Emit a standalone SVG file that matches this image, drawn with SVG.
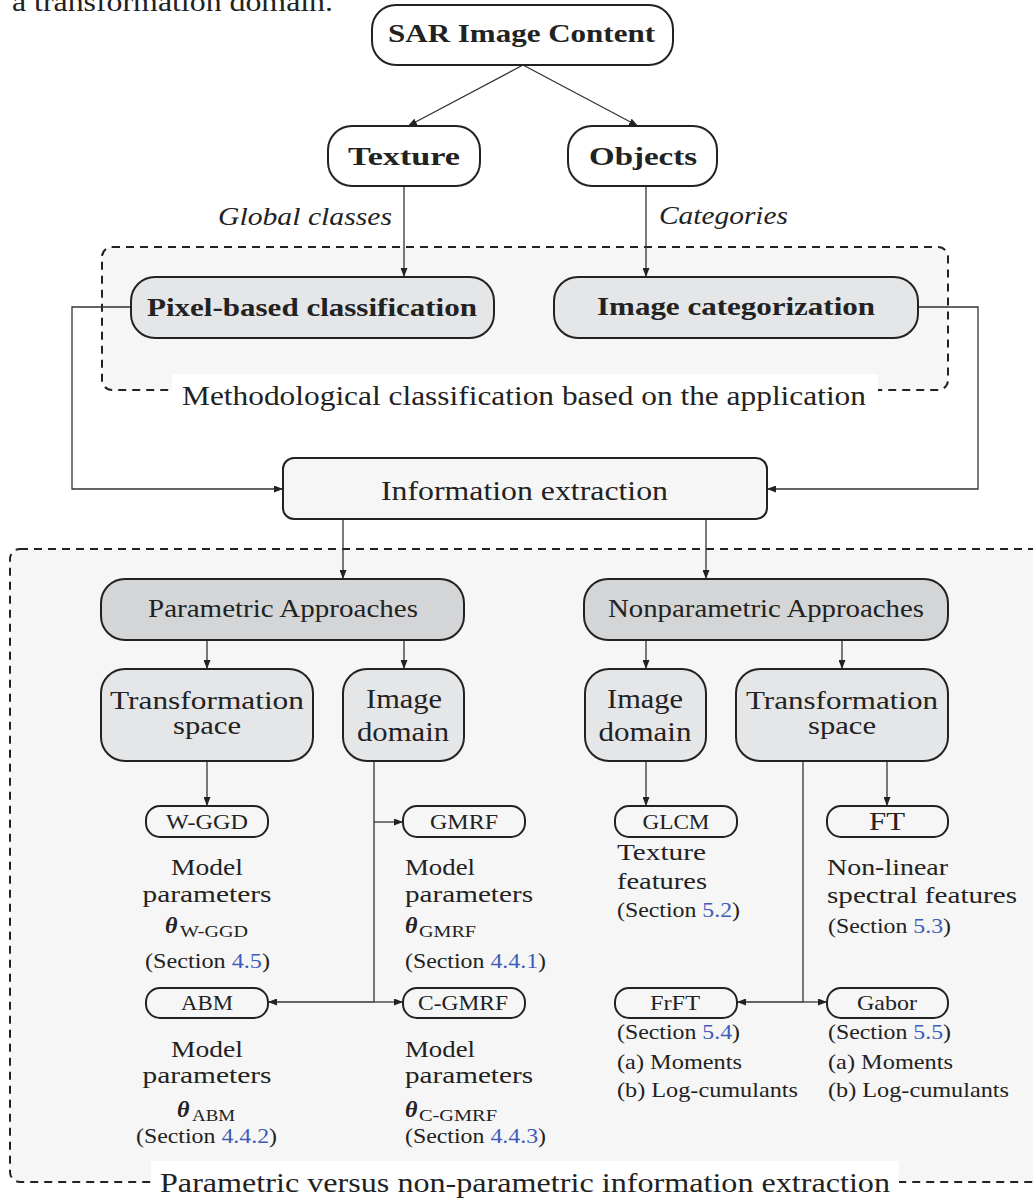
<svg xmlns="http://www.w3.org/2000/svg" width="1033" height="1199" viewBox="0 0 1033 1199" font-family="'Liberation Serif', 'Times New Roman', serif">
  <style>
    text { font-family: "Liberation Serif", "Times New Roman", serif; fill: #222; }
    .b { font-weight: bold; }
    .it { font-style: italic; }
    .mid { text-anchor: middle; }
    .node { stroke: #222; stroke-width: 2; }
    .white { fill: #ffffff; }
    .soft { fill: #e5e6e8; }
    .dark { fill: #d4d5d7; }
    .pale { fill: #f6f6f6; }
    .frame { fill: #f6f6f6; stroke: #222; stroke-width: 2; stroke-dasharray: 8 6; }
    .wire { fill: none; stroke: #333; stroke-width: 1.3; }
    .ref { fill: #3f5bb8; }
  </style>
  <defs>
    <marker id="tip" viewBox="0 0 9 7" refX="9" refY="3.5" markerWidth="9" markerHeight="7" markerUnits="userSpaceOnUse" orient="auto">
      <path d="M0,0 L9,3.5 L0,7 z" fill="#222"/>
    </marker>
  </defs>

  <!-- running text line above the figure -->
  <text x="12" y="11" font-size="28" textLength="321" lengthAdjust="spacingAndGlyphs">a transformation domain.</text>

  <!-- background frames -->
  <g id="frame-methodological">
    <rect class="frame" x="102" y="247" width="846" height="143" rx="10"/>
    <rect x="172" y="374" width="706" height="46" fill="#ffffff"/>
    <text x="182" y="405" font-size="28" textLength="684" lengthAdjust="spacingAndGlyphs">Methodological classification based on the application</text>
  </g>
  <g id="frame-extraction">
    <rect class="frame" x="10" y="549" width="1100" height="633" rx="10"/>
    <rect x="151" y="1161" width="748" height="38" fill="#ffffff"/>
    <text x="160" y="1192" font-size="28" textLength="730" lengthAdjust="spacingAndGlyphs">Parametric versus non-parametric information extraction</text>
  </g>

  <!-- connectors -->
  <g id="connectors" class="wire">
    <path d="M523,65 L408,126" marker-end="url(#tip)"/>
    <path d="M523,65 L638,126" marker-end="url(#tip)"/>
    <path d="M404,186 V277" marker-end="url(#tip)"/>
    <path d="M646,186 V277" marker-end="url(#tip)"/>
    <path d="M131,307 H72 V489 H283" marker-end="url(#tip)"/>
    <path d="M918,307 H978 V489 H767" marker-end="url(#tip)"/>
    <path d="M343,519 V579" marker-end="url(#tip)"/>
    <path d="M706,519 V579" marker-end="url(#tip)"/>
    <path d="M207,640 V669" marker-end="url(#tip)"/>
    <path d="M404,640 V669" marker-end="url(#tip)"/>
    <path d="M646,640 V669" marker-end="url(#tip)"/>
    <path d="M842,640 V669" marker-end="url(#tip)"/>
    <path d="M207,761 V806" marker-end="url(#tip)"/>
    <path d="M374,761 V1002"/>
    <path d="M374,822 H403" marker-end="url(#tip)"/>
    <path d="M374,1002 H268" marker-end="url(#tip)"/>
    <path d="M374,1002 H403" marker-end="url(#tip)"/>
    <path d="M646,761 V806" marker-end="url(#tip)"/>
    <path d="M887,761 V806" marker-end="url(#tip)"/>
    <path d="M803,761 V1002"/>
    <path d="M803,1002 H737" marker-end="url(#tip)"/>
    <path d="M803,1002 H827" marker-end="url(#tip)"/>
  </g>

  <!-- edge labels -->
  <text class="it" x="218" y="225" font-size="26" textLength="174" lengthAdjust="spacingAndGlyphs">Global classes</text>
  <text class="it" x="659" y="224" font-size="26" textLength="129" lengthAdjust="spacingAndGlyphs">Categories</text>

  <!-- top level -->
  <g id="sar-content">
    <rect class="node white" x="372" y="5" width="301" height="60" rx="24"/>
    <text class="b" x="388" y="42" font-size="26" textLength="267" lengthAdjust="spacingAndGlyphs">SAR Image Content</text>
  </g>
  <g id="texture">
    <rect class="node white" x="328" y="126" width="152" height="60" rx="24"/>
    <text class="b" x="348" y="165" font-size="26" textLength="112" lengthAdjust="spacingAndGlyphs">Texture</text>
  </g>
  <g id="objects">
    <rect class="node white" x="568" y="126" width="149" height="60" rx="24"/>
    <text class="b" x="589" y="165" font-size="26" textLength="108" lengthAdjust="spacingAndGlyphs">Objects</text>
  </g>

  <!-- application level -->
  <g id="pixel-classification">
    <rect class="node soft" x="131" y="277" width="363" height="61" rx="24"/>
    <text class="b" x="147" y="316" font-size="25" textLength="330" lengthAdjust="spacingAndGlyphs">Pixel-based classification</text>
  </g>
  <g id="image-categorization">
    <rect class="node soft" x="554" y="277" width="364" height="61" rx="24"/>
    <text class="b" x="597" y="315" font-size="25" textLength="278" lengthAdjust="spacingAndGlyphs">Image categorization</text>
  </g>

  <g id="information-extraction">
    <rect class="node pale" x="283" y="458" width="484" height="61" rx="11"/>
    <text x="381" y="500" font-size="28" textLength="287" lengthAdjust="spacingAndGlyphs">Information extraction</text>
  </g>

  <!-- approach level -->
  <g id="parametric">
    <rect class="node dark" x="101" y="579" width="363" height="61" rx="24"/>
    <text x="148" y="617" font-size="26" textLength="270" lengthAdjust="spacingAndGlyphs">Parametric Approaches</text>
  </g>
  <g id="nonparametric">
    <rect class="node dark" x="584" y="579" width="364" height="61" rx="24"/>
    <text x="608" y="617" font-size="26" textLength="316" lengthAdjust="spacingAndGlyphs">Nonparametric Approaches</text>
  </g>

  <g id="param-transform">
    <rect class="node soft" x="101" y="669" width="212" height="92" rx="24"/>
    <text class="mid" x="207" y="709" font-size="25" textLength="194" lengthAdjust="spacingAndGlyphs">Transformation</text>
    <text class="mid" x="207" y="734" font-size="25" textLength="68" lengthAdjust="spacingAndGlyphs">space</text>
  </g>
  <g id="param-image">
    <rect class="node soft" x="343" y="669" width="121" height="92" rx="24"/>
    <text class="mid" x="404" y="708" font-size="28" textLength="76" lengthAdjust="spacingAndGlyphs">Image</text>
    <text class="mid" x="403" y="741" font-size="28" textLength="92" lengthAdjust="spacingAndGlyphs">domain</text>
  </g>
  <g id="nonparam-image">
    <rect class="node soft" x="585" y="669" width="121" height="92" rx="24"/>
    <text class="mid" x="645" y="708" font-size="28" textLength="76" lengthAdjust="spacingAndGlyphs">Image</text>
    <text class="mid" x="645" y="741" font-size="28" textLength="93" lengthAdjust="spacingAndGlyphs">domain</text>
  </g>
  <g id="nonparam-transform">
    <rect class="node soft" x="736" y="669" width="212" height="92" rx="24"/>
    <text class="mid" x="842" y="709" font-size="25" textLength="192" lengthAdjust="spacingAndGlyphs">Transformation</text>
    <text class="mid" x="842" y="734" font-size="25" textLength="68" lengthAdjust="spacingAndGlyphs">space</text>
  </g>

  <!-- parametric models -->
  <g id="w-ggd">
    <rect class="node pale" x="146" y="806" width="122" height="31" rx="14"/>
    <text class="mid" x="207" y="829" font-size="22" textLength="82" lengthAdjust="spacingAndGlyphs">W-GGD</text>
    <text class="mid" x="207" y="875" font-size="24" textLength="72" lengthAdjust="spacingAndGlyphs">Model</text>
    <text class="mid" x="207" y="902" font-size="24" textLength="129" lengthAdjust="spacingAndGlyphs">parameters</text>
    <text class="b it" x="165" y="933" font-size="24">θ</text>
    <text x="180" y="937" font-size="16" textLength="68" lengthAdjust="spacingAndGlyphs">W-GGD</text>
    <text x="145" y="968" font-size="22" textLength="125" lengthAdjust="spacingAndGlyphs">(Section <tspan class="ref">4.5</tspan>)</text>
  </g>
  <g id="gmrf">
    <rect class="node pale" x="403" y="806" width="122" height="31" rx="14"/>
    <text class="mid" x="464" y="829" font-size="22" textLength="68" lengthAdjust="spacingAndGlyphs">GMRF</text>
    <text x="405" y="875" font-size="24" textLength="70" lengthAdjust="spacingAndGlyphs">Model</text>
    <text x="405" y="902" font-size="24" textLength="128" lengthAdjust="spacingAndGlyphs">parameters</text>
    <text class="b it" x="405" y="933" font-size="24">θ</text>
    <text x="419" y="937" font-size="16" textLength="57" lengthAdjust="spacingAndGlyphs">GMRF</text>
    <text x="405" y="968" font-size="22" textLength="141" lengthAdjust="spacingAndGlyphs">(Section <tspan class="ref">4.4.1</tspan>)</text>
  </g>
  <g id="abm">
    <rect class="node pale" x="146" y="988" width="122" height="30" rx="14"/>
    <text class="mid" x="207" y="1010" font-size="22" textLength="52" lengthAdjust="spacingAndGlyphs">ABM</text>
    <text class="mid" x="207" y="1057" font-size="24" textLength="72" lengthAdjust="spacingAndGlyphs">Model</text>
    <text class="mid" x="207" y="1083" font-size="24" textLength="129" lengthAdjust="spacingAndGlyphs">parameters</text>
    <text class="b it" x="177" y="1117" font-size="24">θ</text>
    <text x="192" y="1121" font-size="16" textLength="43" lengthAdjust="spacingAndGlyphs">ABM</text>
    <text x="136" y="1143" font-size="22" textLength="141" lengthAdjust="spacingAndGlyphs">(Section <tspan class="ref">4.4.2</tspan>)</text>
  </g>
  <g id="c-gmrf">
    <rect class="node pale" x="403" y="988" width="122" height="30" rx="14"/>
    <text class="mid" x="463" y="1010" font-size="22" textLength="90" lengthAdjust="spacingAndGlyphs">C-GMRF</text>
    <text x="405" y="1057" font-size="24" textLength="70" lengthAdjust="spacingAndGlyphs">Model</text>
    <text x="405" y="1083" font-size="24" textLength="128" lengthAdjust="spacingAndGlyphs">parameters</text>
    <text class="b it" x="405" y="1117" font-size="24">θ</text>
    <text x="419" y="1121" font-size="16" textLength="78" lengthAdjust="spacingAndGlyphs">C-GMRF</text>
    <text x="405" y="1143" font-size="22" textLength="141" lengthAdjust="spacingAndGlyphs">(Section <tspan class="ref">4.4.3</tspan>)</text>
  </g>

  <!-- nonparametric features -->
  <g id="glcm">
    <rect class="node pale" x="615" y="806" width="122" height="31" rx="14"/>
    <text class="mid" x="676" y="829" font-size="20" textLength="67" lengthAdjust="spacingAndGlyphs">GLCM</text>
    <text x="617" y="860" font-size="24" textLength="89" lengthAdjust="spacingAndGlyphs">Texture</text>
    <text x="617" y="889" font-size="24" textLength="90" lengthAdjust="spacingAndGlyphs">features</text>
    <text x="617" y="917" font-size="22" textLength="123" lengthAdjust="spacingAndGlyphs">(Section <tspan class="ref">5.2</tspan>)</text>
  </g>
  <g id="ft">
    <rect class="node pale" x="827" y="806" width="121" height="31" rx="14"/>
    <text class="mid" x="887" y="830" font-size="26" textLength="36" lengthAdjust="spacingAndGlyphs">FT</text>
    <text x="827" y="875" font-size="24" textLength="121" lengthAdjust="spacingAndGlyphs">Non-linear</text>
    <text x="827" y="903" font-size="24" textLength="190" lengthAdjust="spacingAndGlyphs">spectral features</text>
    <text x="828" y="933" font-size="22" textLength="123" lengthAdjust="spacingAndGlyphs">(Section <tspan class="ref">5.3</tspan>)</text>
  </g>
  <g id="frft">
    <rect class="node pale" x="615" y="988" width="122" height="30" rx="14"/>
    <text class="mid" x="675" y="1010" font-size="22" textLength="50" lengthAdjust="spacingAndGlyphs">FrFT</text>
    <text x="617" y="1039" font-size="22" textLength="123" lengthAdjust="spacingAndGlyphs">(Section <tspan class="ref">5.4</tspan>)</text>
    <text x="617" y="1069" font-size="22" textLength="125" lengthAdjust="spacingAndGlyphs">(a) Moments</text>
    <text x="617" y="1097" font-size="22" textLength="181" lengthAdjust="spacingAndGlyphs">(b) Log-cumulants</text>
  </g>
  <g id="gabor">
    <rect class="node pale" x="827" y="988" width="121" height="30" rx="14"/>
    <text class="mid" x="887" y="1010" font-size="22" textLength="60" lengthAdjust="spacingAndGlyphs">Gabor</text>
    <text x="828" y="1039" font-size="22" textLength="123" lengthAdjust="spacingAndGlyphs">(Section <tspan class="ref">5.5</tspan>)</text>
    <text x="828" y="1069" font-size="22" textLength="125" lengthAdjust="spacingAndGlyphs">(a) Moments</text>
    <text x="828" y="1097" font-size="22" textLength="181" lengthAdjust="spacingAndGlyphs">(b) Log-cumulants</text>
  </g>
</svg>
